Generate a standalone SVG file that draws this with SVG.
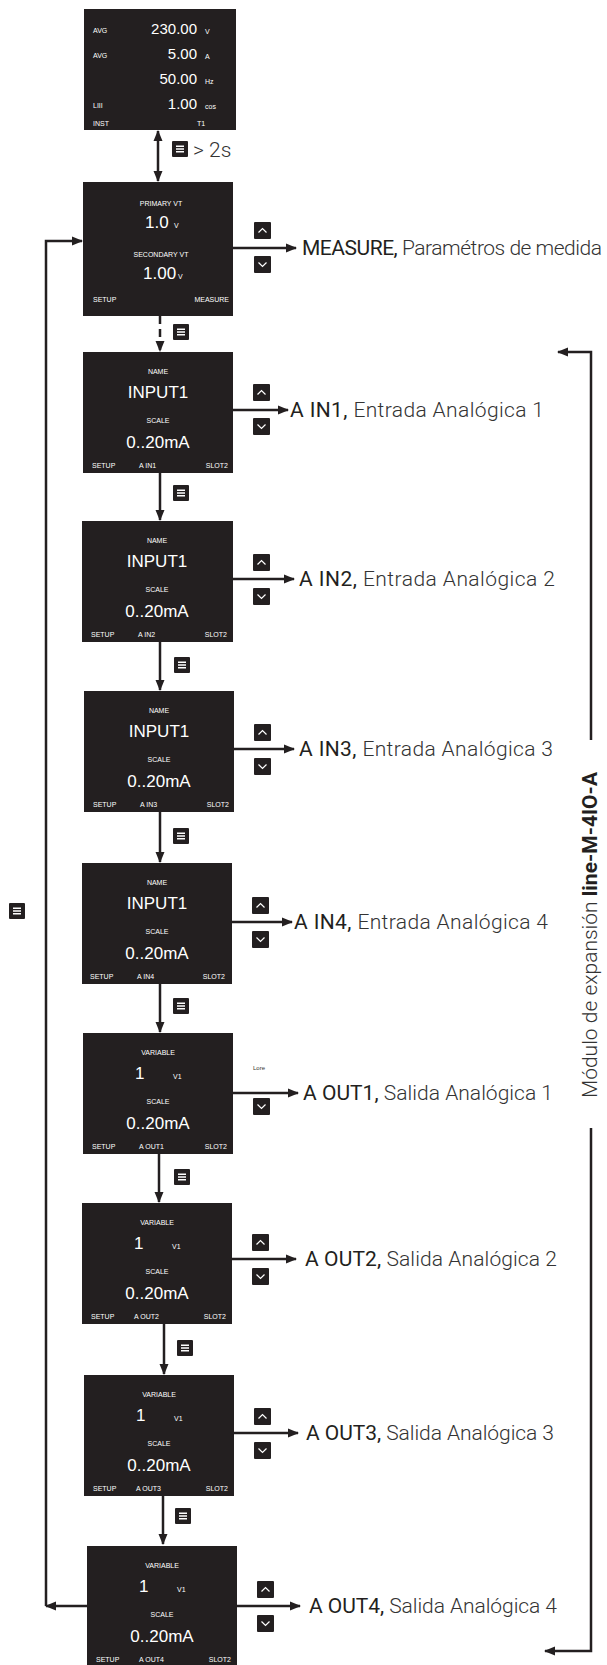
<svg xmlns="http://www.w3.org/2000/svg" xmlns:xlink="http://www.w3.org/1999/xlink" width="607" height="1665" viewBox="0 0 607 1665">
<style>
.scr{fill:#231f20}
.s{font-family:"Liberation Sans",Arial,sans-serif;fill:#fff;font-size:7px}
.b{font-size:17px}
.m{font-size:15px}
.c{text-anchor:middle}
.e{text-anchor:end}
.lbl{font-family:Roboto,"Noto Sans",sans-serif;font-size:21px;fill:#231f20}
.lt{fill:#333;font-weight:300}
.ln{stroke:#231f20;stroke-width:2.5;fill:none}
.dash{stroke-dasharray:8 5}
</style>
<defs>
<marker id="ah" markerUnits="userSpaceOnUse" markerWidth="11" markerHeight="10" refX="10" refY="5" orient="auto-start-reverse">
<path d="M0,0.5 L11,5 L0,9.5 Z" fill="#231f20"/>
</marker>
<g id="menu"><rect width="16" height="16" rx="1" fill="#231f20"/><path d="M4,5.2H12M4,8H12M4,10.8H12" stroke="#fff" stroke-width="1.4"/></g>
<g id="up"><rect width="17" height="17" rx="1" fill="#231f20"/><path d="M4.5,10.5L8.5,6.5L12.5,10.5" stroke="#fff" stroke-width="1.2" fill="none"/></g>
<g id="dn"><rect width="17" height="17" rx="1" fill="#231f20"/><path d="M4.5,6.5L8.5,10.5L12.5,6.5" stroke="#fff" stroke-width="1.2" fill="none"/></g>
</defs>
<rect width="607" height="1665" fill="#fff"/>

<g id="connectors">
<line class="ln" x1="158" y1="131" x2="158" y2="181" marker-start="url(#ah)" marker-end="url(#ah)"/>
<line class="ln dash" x1="160" y1="316" x2="160" y2="351" marker-end="url(#ah)"/>
<line class="ln" x1="160" y1="473" x2="160" y2="520" marker-end="url(#ah)"/>
<line class="ln" x1="160" y1="642" x2="160" y2="690" marker-end="url(#ah)"/>
<line class="ln" x1="160" y1="812" x2="160" y2="862" marker-end="url(#ah)"/>
<line class="ln" x1="160" y1="984" x2="160" y2="1032" marker-end="url(#ah)"/>
<line class="ln" x1="159" y1="1154" x2="159" y2="1202" marker-end="url(#ah)"/>
<line class="ln" x1="164" y1="1324" x2="164" y2="1374" marker-end="url(#ah)"/>
<line class="ln" x1="163" y1="1496" x2="163" y2="1544" marker-end="url(#ah)"/>
<line class="ln" x1="233" y1="248" x2="296" y2="248" marker-end="url(#ah)"/>
<line class="ln" x1="233" y1="410" x2="288" y2="410" marker-end="url(#ah)"/>
<line class="ln" x1="233" y1="579" x2="294" y2="579" marker-end="url(#ah)"/>
<line class="ln" x1="234" y1="749" x2="294" y2="749" marker-end="url(#ah)"/>
<line class="ln" x1="232" y1="922" x2="292" y2="922" marker-end="url(#ah)"/>
<line class="ln" x1="233" y1="1093" x2="298" y2="1093" marker-end="url(#ah)"/>
<line class="ln" x1="232" y1="1259" x2="296" y2="1259" marker-end="url(#ah)"/>
<line class="ln" x1="234" y1="1433" x2="298" y2="1433" marker-end="url(#ah)"/>
<line class="ln" x1="237" y1="1606" x2="300" y2="1606" marker-end="url(#ah)"/>
<line class="ln" x1="87" y1="1606" x2="46" y2="1606" marker-end="url(#ah)"/>
<path class="ln" d="M46,1606V241H82" marker-end="url(#ah)"/>
<path class="ln" d="M591,740V352H558" marker-end="url(#ah)"/>
<path class="ln" d="M591,1128V1651H545" marker-end="url(#ah)"/>
<use xlink:href="#menu" x="172" y="141"/>
<use xlink:href="#menu" x="173" y="324"/>
<use xlink:href="#menu" x="173" y="485"/>
<use xlink:href="#menu" x="174" y="657"/>
<use xlink:href="#menu" x="173" y="828"/>
<use xlink:href="#menu" x="173" y="998"/>
<use xlink:href="#menu" x="174" y="1169"/>
<use xlink:href="#menu" x="177" y="1340"/>
<use xlink:href="#menu" x="175" y="1508"/>
<use xlink:href="#menu" x="9" y="903"/>
<text class="lbl lt" x="193" y="157" font-size="19">&gt; 2s</text>
</g>

<g id="node-inst">
<rect class="scr" x="84" y="9" width="152" height="121"/>
<text class="s" x="93" y="33">AVG</text><text class="s m e" x="197" y="34">230.00</text><text class="s" x="205" y="34">V</text>
<text class="s" x="93" y="58">AVG</text><text class="s m e" x="197" y="59">5.00</text><text class="s" x="205" y="59">A</text>
<text class="s m e" x="197" y="84">50.00</text><text class="s" x="205" y="84">Hz</text>
<text class="s" x="93" y="108">LIII</text><text class="s m e" x="197" y="109">1.00</text><text class="s" x="205" y="109">cos</text>
<text class="s" x="93" y="126">INST</text><text class="s" x="197" y="126">T1</text>
</g>

<g id="node-setup-vt">
<rect class="scr" x="83" y="182" width="150" height="134"/>
<text class="s c" x="161" y="206">PRIMARY VT</text>
<text class="s b" x="145" y="228">1.0</text><text class="s" x="174" y="228">V</text>
<text class="s c" x="161" y="257">SECONDARY VT</text>
<text class="s b" x="143" y="279">1.00</text><text class="s" x="178" y="279">V</text>
<text class="s" x="93" y="302">SETUP</text><text class="s e" x="229" y="302">MEASURE</text>
<use xlink:href="#up" x="254" y="222"/><use xlink:href="#dn" x="254" y="256"/>
<text class="lbl" x="302" y="255" textLength="300">MEASURE, <tspan class="lt">Paramétros de medida</tspan></text>
</g>

<g id="node-ain1">
<rect class="scr" x="83" y="352" width="150" height="121"/>
<text class="s c" x="158" y="374">NAME</text>
<text class="s b c" x="158" y="398">INPUT1</text>
<text class="s c" x="158" y="423">SCALE</text>
<text class="s b c" x="158" y="448">0..20mA</text>
<text class="s" x="92" y="468">SETUP</text><text class="s" x="139" y="468">A  IN1</text><text class="s e" x="228" y="468">SLOT2</text>
<use xlink:href="#up" x="253" y="384"/><use xlink:href="#dn" x="253" y="418"/>
<text class="lbl" x="290" y="417" textLength="254">A IN1, <tspan class="lt">Entrada Analógica 1</tspan></text>
</g>

<g id="node-ain2">
<rect class="scr" x="82" y="521" width="151" height="121"/>
<text class="s c" x="157" y="543">NAME</text>
<text class="s b c" x="157" y="567">INPUT1</text>
<text class="s c" x="157" y="592">SCALE</text>
<text class="s b c" x="157" y="617">0..20mA</text>
<text class="s" x="91" y="637">SETUP</text><text class="s" x="138" y="637">A  IN2</text><text class="s e" x="227" y="637">SLOT2</text>
<use xlink:href="#up" x="253" y="554"/><use xlink:href="#dn" x="253" y="588"/>
<text class="lbl" x="299" y="586" textLength="256">A IN2, <tspan class="lt">Entrada Analógica 2</tspan></text>
</g>

<g id="node-ain3">
<rect class="scr" x="84" y="691" width="150" height="121"/>
<text class="s c" x="159" y="713">NAME</text>
<text class="s b c" x="159" y="737">INPUT1</text>
<text class="s c" x="159" y="762">SCALE</text>
<text class="s b c" x="159" y="787">0..20mA</text>
<text class="s" x="93" y="807">SETUP</text><text class="s" x="140" y="807">A  IN3</text><text class="s e" x="229" y="807">SLOT2</text>
<use xlink:href="#up" x="254" y="724"/><use xlink:href="#dn" x="254" y="758"/>
<text class="lbl" x="299" y="756" textLength="254">A IN3, <tspan class="lt">Entrada Analógica 3</tspan></text>
</g>

<g id="node-ain4">
<rect class="scr" x="82" y="863" width="150" height="121"/>
<text class="s c" x="157" y="885">NAME</text>
<text class="s b c" x="157" y="909">INPUT1</text>
<text class="s c" x="157" y="934">SCALE</text>
<text class="s b c" x="157" y="959">0..20mA</text>
<text class="s" x="90" y="979">SETUP</text><text class="s" x="137" y="979">A  IN4</text><text class="s e" x="225" y="979">SLOT2</text>
<use xlink:href="#up" x="252" y="897"/><use xlink:href="#dn" x="252" y="931"/>
<text class="lbl" x="294" y="929" textLength="254">A IN4, <tspan class="lt">Entrada Analógica 4</tspan></text>
</g>

<g id="node-aout1">
<rect class="scr" x="83" y="1033" width="150" height="121"/>
<text class="s c" x="158" y="1055">VARIABLE</text>
<text class="s b" x="135" y="1079">1</text><text class="s" x="173" y="1079">V1</text>
<text class="s c" x="158" y="1104">SCALE</text>
<text class="s b c" x="158" y="1129">0..20mA</text>
<text class="s" x="92" y="1149">SETUP</text><text class="s" x="139" y="1149">A  OUT1</text><text class="s e" x="227" y="1149">SLOT2</text>
<text x="253" y="1070" font-family="Liberation Sans,Arial,sans-serif" font-size="6" fill="#333">Lore</text>
<use xlink:href="#dn" x="253" y="1098"/>
<text class="lbl" x="303" y="1100" textLength="250">A OUT1, <tspan class="lt">Salida Analógica 1</tspan></text>
</g>

<g id="node-aout2">
<rect class="scr" x="82" y="1203" width="150" height="121"/>
<text class="s c" x="157" y="1225">VARIABLE</text>
<text class="s b" x="134" y="1249">1</text><text class="s" x="172" y="1249">V1</text>
<text class="s c" x="157" y="1274">SCALE</text>
<text class="s b c" x="157" y="1299">0..20mA</text>
<text class="s" x="91" y="1319">SETUP</text><text class="s" x="134" y="1319">A  OUT2</text><text class="s e" x="226" y="1319">SLOT2</text>
<use xlink:href="#up" x="252" y="1234"/><use xlink:href="#dn" x="252" y="1268"/>
<text class="lbl" x="305" y="1266" textLength="252">A OUT2, <tspan class="lt">Salida Analógica 2</tspan></text>
</g>

<g id="node-aout3">
<rect class="scr" x="84" y="1375" width="150" height="121"/>
<text class="s c" x="159" y="1397">VARIABLE</text>
<text class="s b" x="136" y="1421">1</text><text class="s" x="174" y="1421">V1</text>
<text class="s c" x="159" y="1446">SCALE</text>
<text class="s b c" x="159" y="1471">0..20mA</text>
<text class="s" x="93" y="1491">SETUP</text><text class="s" x="136" y="1491">A  OUT3</text><text class="s e" x="228" y="1491">SLOT2</text>
<use xlink:href="#up" x="254" y="1408"/><use xlink:href="#dn" x="254" y="1442"/>
<text class="lbl" x="306" y="1440" textLength="248">A OUT3, <tspan class="lt">Salida Analógica 3</tspan></text>
</g>

<g id="node-aout4">
<rect class="scr" x="87" y="1546" width="150" height="125"/>
<text class="s c" x="162" y="1568">VARIABLE</text>
<text class="s b" x="139" y="1592">1</text><text class="s" x="177" y="1592">V1</text>
<text class="s c" x="162" y="1617">SCALE</text>
<text class="s b c" x="162" y="1642">0..20mA</text>
<text class="s" x="96" y="1662">SETUP</text><text class="s" x="139" y="1662">A  OUT4</text><text class="s e" x="231" y="1662">SLOT2</text>
<use xlink:href="#up" x="257" y="1581"/><use xlink:href="#dn" x="257" y="1615"/>
<text class="lbl" x="309" y="1613" textLength="248">A OUT4, <tspan class="lt">Salida Analógica 4</tspan></text>
</g>

<g id="module-label">
<text class="lbl" font-size="20" transform="translate(597,935) rotate(-90)" text-anchor="middle" textLength="326"><tspan class="lt">Módulo de expansión </tspan><tspan font-weight="bold">line-M-4IO-A</tspan></text>
</g>
</svg>
